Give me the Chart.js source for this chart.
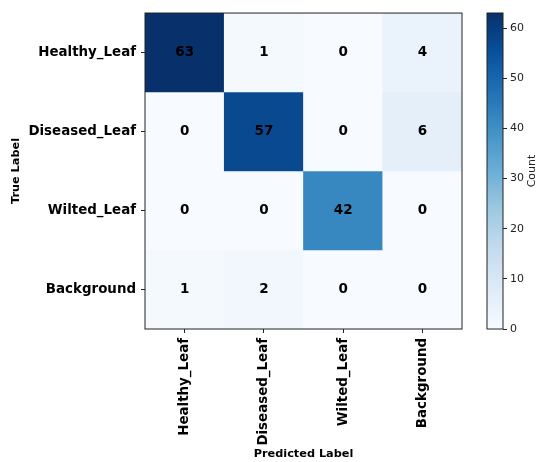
<!DOCTYPE html>
<html>
<head>
<meta charset="utf-8">
<script src="https://cdn.jsdelivr.net/npm/chart.js@4.4.1/dist/chart.umd.min.js"></script>
<style>
  html, body { margin: 0; padding: 0; background: #fff; }
  #wrap { position: relative; width: 539px; height: 462px; }
  #wrap canvas { position: absolute; top: 0; }
</style>
</head>
<body>
<div id="wrap">
  <canvas id="matrix" width="539" height="462" style="left:0"></canvas>
  <canvas id="cbar" width="69" height="462" style="left:470px"></canvas>
</div>
<script>
const predLabels = ["Healthy_Leaf", "Diseased_Leaf", "Wilted_Leaf", "Background"];
const trueLabels = ["Healthy_Leaf", "Diseased_Leaf", "Wilted_Leaf", "Background"];

// rows = true label, columns = predicted label
const rowHealthy = [63, 1, 0, 4];
const rowDiseased = [0, 57, 0, 6];
const rowWilted = [0, 0, 42, 0];
const rowBackground = [1, 2, 0, 0];
const counts = [rowHealthy, rowDiseased, rowWilted, rowBackground];

const cbarTicks = [0, 10, 20, 30, 40, 50, 60];

const vmax = Math.max(...counts.flat());
const FONT = "'DejaVu Sans', sans-serif";

// matplotlib "Blues"
const bluesStops = ["#f7fbff", "#deebf7", "#c6dbef", "#9ecae1", "#6baed6", "#4292c6", "#2171b5", "#08519c", "#08306b"];

function hexToRgb(h) {
  return [1, 3, 5].map(i => parseInt(h.slice(i, i + 2), 16));
}

function blues(t) {
  t = Math.min(1, Math.max(0, t));
  const pos = t * (bluesStops.length - 1);
  const i = Math.min(Math.floor(pos), bluesStops.length - 2);
  const f = pos - i;
  const a = hexToRgb(bluesStops[i]);
  const b = hexToRgb(bluesStops[i + 1]);
  const c = a.map((v, k) => Math.round(v + (b[k] - v) * f));
  return `rgb(${c[0]}, ${c[1]}, ${c[2]})`;
}

// box around the plot area
const frame = {
  id: "frame",
  afterDraw(chart) {
    const { ctx, chartArea: a } = chart;
    ctx.save();
    ctx.strokeStyle = "#222";
    ctx.lineWidth = 1;
    ctx.strokeRect(a.left, a.top, a.right - a.left, a.bottom - a.top);
    ctx.restore();
  }
};

// numbers in every cell
const cellText = {
  id: "cellText",
  afterDatasetsDraw(chart) {
    const ctx = chart.ctx;
    ctx.save();
    ctx.font = `bold 13.5px ${FONT}`;
    ctx.fillStyle = "#000";
    ctx.textAlign = "center";
    ctx.textBaseline = "middle";
    chart.data.datasets.forEach((ds, r) => {
      chart.getDatasetMeta(r).data.forEach((bar, c) => {
        const p = bar.getCenterPoint();
        ctx.fillText(String(counts[r][c]), p.x, p.y);
      });
    });
    ctx.restore();
  }
};

new Chart(document.getElementById("matrix"), {
  type: "bar",
  data: {
    labels: predLabels,
    datasets: counts.map((row, r) => ({
      label: trueLabels[r],
      data: row.map(() => [r - 0.5, r + 0.5]),
      backgroundColor: row.map(v => blues(v / vmax)),
      borderWidth: 0,
      barPercentage: 1,
      categoryPercentage: 1,
      grouped: false
    }))
  },
  options: {
    responsive: false,
    animation: false,
    layout: { padding: { top: 13, right: 77, bottom: 0, left: 0 } },
    plugins: {
      legend: { display: false },
      tooltip: { enabled: false }
    },
    scales: {
      x: {
        grid: { drawOnChartArea: false, offset: false, tickLength: 4, color: "#222" },
        border: { display: false },
        ticks: {
          minRotation: 90,
          maxRotation: 90,
          padding: 5,
          color: "#000",
          font: { family: FONT, size: 13.4, weight: "bold" }
        },
        title: {
          display: true,
          text: "Predicted Label",
          color: "#000",
          padding: { top: 0, bottom: 1 },
          font: { family: FONT, size: 11.3, weight: "bold" }
        },
        afterFit(scale) { scale.height = 133; }
      },
      y: {
        type: "linear",
        reverse: true,
        min: -0.5,
        max: trueLabels.length - 0.5,
        afterBuildTicks(scale) {
          scale.ticks = trueLabels.map((_, i) => ({ value: i }));
        },
        grid: { drawOnChartArea: false, tickLength: 4, color: "#222" },
        border: { display: false },
        ticks: {
          padding: 5,
          color: "#000",
          font: { family: FONT, size: 13.4, weight: "bold" },
          callback: v => trueLabels[v]
        },
        title: {
          display: true,
          text: "True Label",
          color: "#000",
          padding: { top: 9, bottom: 0 },
          font: { family: FONT, size: 11.3, weight: "bold" }
        },
        afterFit(scale) { scale.width = 145; }
      }
    }
  },
  plugins: [cellText, frame]
});

// colorbar title, reads bottom-to-top like matplotlib
const cbarTitle = {
  id: "cbarTitle",
  afterDraw(chart) {
    const { ctx, chartArea: a } = chart;
    ctx.save();
    ctx.translate(62, (a.top + a.bottom) / 2);
    ctx.rotate(-Math.PI / 2);
    ctx.font = `11px ${FONT}`;
    ctx.fillStyle = "#222";
    ctx.textAlign = "center";
    ctx.textBaseline = "middle";
    ctx.fillText("Count", 0, 0);
    ctx.restore();
  }
};

new Chart(document.getElementById("cbar"), {
  type: "bar",
  data: {
    labels: ["Count"],
    datasets: [{
      data: [[0, vmax]],
      backgroundColor(context) {
        const a = context.chart.chartArea;
        if (!a) return bluesStops[0];
        const g = context.chart.ctx.createLinearGradient(0, a.bottom, 0, a.top);
        bluesStops.forEach((c, i) => g.addColorStop(i / (bluesStops.length - 1), c));
        return g;
      },
      borderWidth: 0,
      barPercentage: 1,
      categoryPercentage: 1
    }]
  },
  options: {
    responsive: false,
    animation: false,
    layout: { padding: { top: 13, right: 0, bottom: 133, left: 17 } },
    plugins: {
      legend: { display: false },
      tooltip: { enabled: false }
    },
    scales: {
      x: { display: false },
      y: {
        position: "right",
        min: 0,
        max: vmax,
        afterBuildTicks(scale) {
          scale.ticks = cbarTicks.map(v => ({ value: v }));
        },
        grid: { drawOnChartArea: false, tickLength: 4, color: "#222" },
        border: { display: false },
        ticks: {
          padding: 3,
          color: "#222",
          font: { family: FONT, size: 11 }
        },
        afterFit(scale) { scale.width = 36; }
      }
    }
  },
  plugins: [frame, cbarTitle]
});
</script>
</body>
</html>
